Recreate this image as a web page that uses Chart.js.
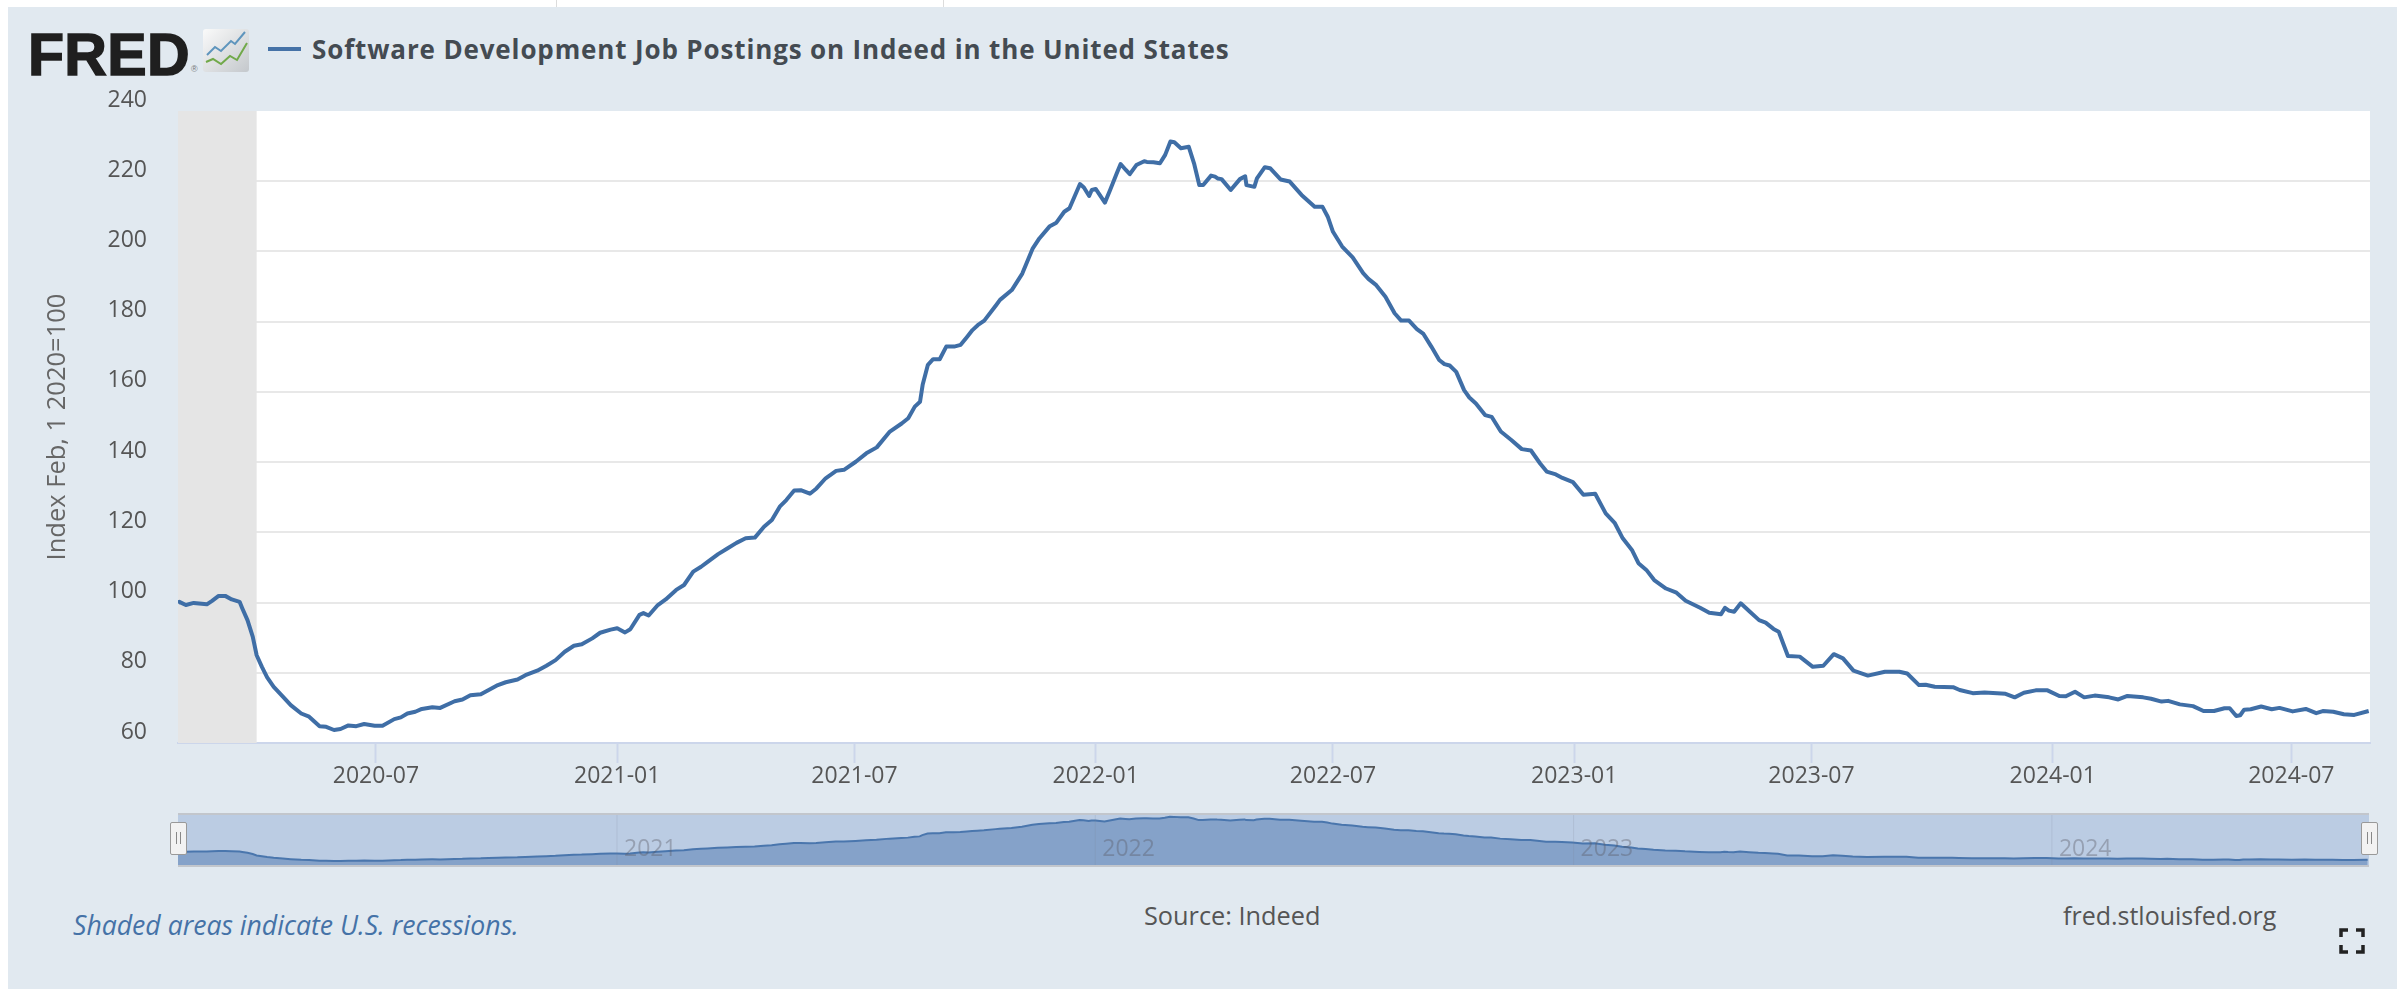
<!DOCTYPE html>
<html>
<head>
<meta charset="utf-8">
<title>Software Development Job Postings on Indeed in the United States</title>
<script src="https://cdn.jsdelivr.net/npm/chart.js@4/dist/chart.umd.min.js"></script>
<style>
html, body { margin: 0; padding: 0; background: #fff; }
body { width: 2397px; height: 989px; overflow: hidden; position: relative; font-family: "Open Sans", sans-serif; }
#panel { position: absolute; left: 8px; top: 7px; right: 0; bottom: 0; background: #e1e9f0; }
.notch { position: absolute; top: 0; width: 1px; height: 7px; background: #dcdcdc; }
canvas { position: absolute; left: 0; }
#main { top: 0; }
#nav { top: 810px; }
.txt { position: absolute; white-space: nowrap; line-height: 1; }
#logo { left: 28px; top: 21px; font: bold 59px "Liberation Sans", sans-serif; color: #1f1f1f; -webkit-text-stroke: 1.5px #1f1f1f; letter-spacing: 0.3px; }
#reg { left: 191px; top: 64px; font: 9px "Liberation Sans", sans-serif; color: #777; }
#legendline { position: absolute; left: 268px; top: 47px; width: 33px; height: 4px; background: #4572a7; }
#title { left: 312px; top: 36px; font-size: 26px; font-weight: 700; letter-spacing: 0.86px; color: #444b52; }
#recess { left: 73px; top: 912px; font-size: 26.6px; font-style: italic; color: #4572a7; }
#source { left: 1144px; top: 903px; font-size: 25.3px; color: #555; }
#site { left: 2063px; top: 903px; font-size: 25px; color: #555; }
.handle { position: absolute; top: 822px; width: 15px; height: 31px; background: #f2f2f2; border: 1px solid #999; border-radius: 2px; }
.handle::before { content: ""; position: absolute; left: 5px; top: 9px; width: 3px; height: 12px; border-left: 1px solid #888; border-right: 1px solid #888; }
svg { position: absolute; }
</style>
</head>
<body>
<div class="notch" style="left:556px"></div>
<div class="notch" style="left:943px"></div>
<div id="panel"></div>

<div class="txt" id="logo">FRED</div>
<div class="txt" id="reg">®</div>
<svg style="left:203px;top:29px" width="46" height="43" viewBox="0 0 46 43">
  <defs><linearGradient id="ig" x1="0" y1="0" x2="1" y2="1"><stop offset="0" stop-color="#fafafa"/><stop offset="1" stop-color="#c4c8cc"/></linearGradient></defs>
  <rect width="46" height="43" rx="3" fill="url(#ig)"/>
  <polyline points="4,26 12,18 18,22 28,12 32,15 42,3" fill="none" stroke="#5f95bd" stroke-width="2"/>
  <polyline points="3,33 10,30 18,35 27,27 34,31 44,14" fill="none" stroke="#71a94a" stroke-width="2"/>
</svg>
<div id="legendline"></div>
<div class="txt" id="title">Software Development Job Postings on Indeed in the United States</div>

<canvas id="main" width="2397" height="800"></canvas>
<canvas id="nav" width="2397" height="60"></canvas>
<div class="handle" style="left:170px"></div>
<div class="handle" style="left:2361px"></div>

<div class="txt" id="recess">Shaded areas indicate U.S. recessions.</div>
<div class="txt" id="source">Source: Indeed</div>
<div class="txt" id="site">fred.stlouisfed.org</div>
<svg style="left:2339px;top:928px" width="26" height="26" viewBox="0 0 26 26" fill="none" stroke="#222" stroke-width="3.5">
  <path d="M2 9V2H9M17 2H24V9M24 17V24H17M9 24H2V17"/>
</svg>

<script>
// days counted from 2020-02-01
const dayOffsets = [
    0,1,6,12,22,26,31,36,41,47,49,
    53,57,60,64,68,73,80,86,94,100,
    108,113,119,124,130,136,142,150,156,165,
    170,175,181,186,194,200,211,217,223,231,
    237,244,250,259,265,274,281,288,295,302,
    308,316,322,330,335,341,345,352,355,359,
    366,372,380,386,393,399,404,412,419,426,
    433,440,447,453,459,464,470,475,482,487,
    494,502,508,517,525,533,543,552,557,562,
    566,568,572,576,581,586,592,597,602,606,
    610,615,624,627,636,644,652,657,665,670,
    676,680,688,691,695,697,700,707,711,716,
    719,723,726,731,737,739,744,749,753,757,
    760,765,771,775,779,782,788,791,793,796,
    803,810,814,815,821,823,829,833,841,848,
    857,867,873,877,881,888,896,904,908,914,
    921,928,933,939,945,950,956,962,966,970,
    975,981,985,990,997,1002,1009,1017,1025,1032,
    1039,1044,1051,1056,1064,1072,1081,1089,1096,1102,
    1109,1114,1120,1126,1135,1143,1150,1161,1168,1177,
    1180,1183,1187,1192,1199,1206,1211,1217,1221,1228,
    1237,1247,1255,1263,1270,1278,1289,1302,1313,1319,
    1328,1333,1340,1354,1359,1369,1378,1394,1401,1408,
    1417,1426,1435,1440,1447,1454,1462,1473,1480,1487,
    1499,1505,1513,1518,1527,1537,1545,1553,1561,1565,
    1570,1573,1576,1581,1589,1597,1603,1613,1623,1631,
    1636,1644,1652,1660,1671
];
const postingsIndex = [
    99.8,100.2,99.3,99.9,99.5,100.5,101.9,101.9,100.9,100.2,98.4,
    95.0,90.3,85.0,81.7,78.7,76.0,73.2,70.8,68.4,67.5,
    64.8,64.6,63.7,64.0,65.0,64.8,65.4,64.9,64.9,66.8,
    67.3,68.4,68.9,69.7,70.2,70.0,71.9,72.4,73.6,73.9,
    75.1,76.5,77.3,78.1,79.3,80.6,82.0,83.6,86.0,87.7,
    88.1,89.8,91.4,92.3,92.7,91.5,92.4,96.5,97.0,96.3,
    99.3,100.9,103.6,105.0,108.8,110.2,111.6,113.8,115.4,117.0,
    118.3,118.5,121.6,123.5,127.3,129.2,131.9,132.0,131.0,132.5,
    135.4,137.5,137.8,140.1,142.5,144.2,148.7,151.0,152.5,155.8,
    157.2,162.0,167.7,169.3,169.3,172.9,172.9,173.4,175.7,177.6,
    179.0,180.3,184.7,186.2,189.0,193.7,200.9,203.7,207.2,208.2,
    211.3,212.3,219.2,218.2,215.8,217.5,217.8,213.9,217.5,222.2,
    224.9,223.2,222.0,224.6,225.7,225.5,225.4,225.1,227.5,231.3,
    231.1,229.4,229.8,225.1,218.9,218.9,221.6,221.3,220.8,220.6,
    217.5,220.6,221.4,218.9,218.4,220.8,224.0,223.7,220.5,219.9,
    216.1,212.7,212.7,209.9,205.6,201.4,198.3,193.8,192.2,190.4,
    187.1,182.4,180.3,180.3,177.9,176.5,172.9,169.1,167.9,167.5,
    165.7,160.5,158.4,156.7,153.4,152.9,148.7,146.3,143.7,143.3,
    139.6,137.3,136.5,135.5,134.3,130.7,131.0,125.4,122.6,118.3,
    115.0,111.2,109.3,106.4,104.0,102.8,100.5,98.5,97.1,96.7,
    98.5,97.7,97.4,99.8,97.4,95.0,94.3,92.5,91.7,84.8,
    84.6,81.7,82.0,85.3,84.1,80.6,79.2,80.3,80.3,79.8,
    76.5,76.6,76.0,75.9,75.1,74.2,74.4,74.0,73.0,74.3,
    75.0,75.0,73.4,73.3,74.6,73.0,73.5,73.0,72.4,73.4,
    73.0,72.6,71.8,72.0,71.0,70.5,69.1,69.1,69.9,69.9,
    67.7,67.9,69.5,69.6,70.4,69.6,70.0,69.0,69.7,68.5,
    69.1,68.9,68.2,68.0,69.1
];
const xTickLabels = ["2020-07", "2021-01", "2021-07", "2022-01", "2022-07", "2023-01", "2023-07", "2024-01", "2024-07"];
const navYears = ["2021", "2022", "2023", "2024"];
const yTicks = [60, 80, 100, 120, 140, 160, 180, 200, 220, 240];
const recessionEnd = "2020-04";

const startDate = Date.UTC(2020, 1, 1);
const lastDay = 1672;

function monthToDay(label) {
    const parts = label.split("-");
    const month = parts.length > 1 ? parseInt(parts[1]) - 1 : 0;
    return Math.round((Date.UTC(parseInt(parts[0]), month, 1) - startDate) / 86400000);
}

const lineColor = "#3f6ea6";
const points = dayOffsets.map((d, i) => ({ x: d, y: postingsIndex[i] }));

const plotBackground = {
    id: "plotBackground",
    beforeDraw(chart) {
        const a = chart.chartArea;
        chart.ctx.fillStyle = "#ffffff";
        chart.ctx.fillRect(a.left, a.top, a.right - a.left, a.bottom - a.top);
    },
    beforeDatasetsDraw(chart) {
        const a = chart.chartArea;
        const end = chart.scales.x.getPixelForValue(monthToDay(recessionEnd));
        chart.ctx.fillStyle = "#e5e5e5";
        chart.ctx.fillRect(a.left, a.top, end - a.left, a.bottom - a.top);
    }
};

const mainChart = new Chart("main", {
    type: "line",
    data: {
        datasets: [{
            data: points,
            borderColor: lineColor,
            borderWidth: 4,
            borderJoinStyle: "round",
            pointRadius: 0,
            tension: 0
        }]
    },
    options: {
        responsive: false,
        animation: false,
        layout: { padding: { top: 111, right: 27 } },
        plugins: { legend: { display: false }, tooltip: { enabled: false } },
        scales: {
            x: {
                type: "linear",
                min: 0,
                max: lastDay,
                afterFit: (scale) => { scale.height = 57; },
                afterBuildTicks: (scale) => { scale.ticks = xTickLabels.map(l => ({ value: monthToDay(l) })); },
                border: { color: "#ccd6eb", width: 2 },
                grid: { drawOnChartArea: false, drawTicks: true, tickLength: 20, tickColor: "#ccd6eb", tickWidth: 2 },
                ticks: {
                    autoSkip: false,
                    maxRotation: 0,
                    padding: 0,
                    color: "#555555",
                    font: { family: "Open Sans", size: 23 },
                    callback: (value) => xTickLabels.find(l => monthToDay(l) === value)
                }
            },
            y: {
                min: 60,
                max: 240,
                afterFit: (scale) => { scale.width = 178; },
                afterBuildTicks: (scale) => { scale.ticks = yTicks.map(v => ({ value: v })); },
                border: { display: false },
                grid: {
                    drawTicks: false,
                    lineWidth: 2,
                    color: (ctx) => ctx.tick.value === 240 ? "rgba(0,0,0,0)" : "#e8e8e8"
                },
                ticks: {
                    autoSkip: false,
                    padding: 31,
                    labelOffset: -11,
                    color: "#555555",
                    font: { family: "Open Sans", size: 23 }
                },
                title: {
                    display: true,
                    text: "Index Feb, 1 2020=100",
                    color: "#666666",
                    font: { family: "Open Sans", size: 25.5 },
                    padding: { top: 42, bottom: 0 }
                }
            }
        }
    },
    plugins: [plotBackground]
});

const navDecor = {
    id: "navDecor",
    beforeDraw(chart) {
        const a = chart.chartArea;
        const ctx = chart.ctx;
        ctx.fillStyle = "#bbcce3";
        ctx.fillRect(a.left, a.top, a.right - a.left, a.bottom - a.top);
    },
    afterDraw(chart) {
        const a = chart.chartArea;
        const ctx = chart.ctx;
        ctx.save();
        navYears.forEach(year => {
            const px = chart.scales.x.getPixelForValue(monthToDay(year));
            ctx.strokeStyle = "rgba(120,130,150,0.18)";
            ctx.lineWidth = 1;
            ctx.beginPath();
            ctx.moveTo(px, a.top);
            ctx.lineTo(px, a.bottom);
            ctx.stroke();
            ctx.fillStyle = "rgba(90,90,100,0.38)";
            ctx.font = "23px 'Open Sans'";
            ctx.textAlign = "left";
            ctx.textBaseline = "middle";
            ctx.fillText(year, px + 7, a.top + 35);
        });
        ctx.strokeStyle = "#c2c6cc";
        ctx.lineWidth = 2;
        ctx.beginPath();
        ctx.moveTo(a.left, a.top);
        ctx.lineTo(a.right, a.top);
        ctx.moveTo(a.left, a.bottom);
        ctx.lineTo(a.right, a.bottom);
        ctx.stroke();
        ctx.restore();
    }
};

const navChart = new Chart("nav", {
    type: "line",
    data: {
        datasets: [{
            data: points,
            borderColor: "#4a76ad",
            borderWidth: 2,
            backgroundColor: "#85a2c9",
            fill: "start",
            pointRadius: 0,
            tension: 0
        }]
    },
    options: {
        responsive: false,
        animation: false,
        layout: { padding: { left: 178, right: 28, top: 4, bottom: 4 } },
        plugins: { legend: { display: false }, tooltip: { enabled: false } },
        scales: {
            x: { type: "linear", min: 0, max: lastDay, display: false },
            y: { min: 45, max: 242, display: false }
        }
    },
    plugins: [navDecor]
});
</script>
</body>
</html>
